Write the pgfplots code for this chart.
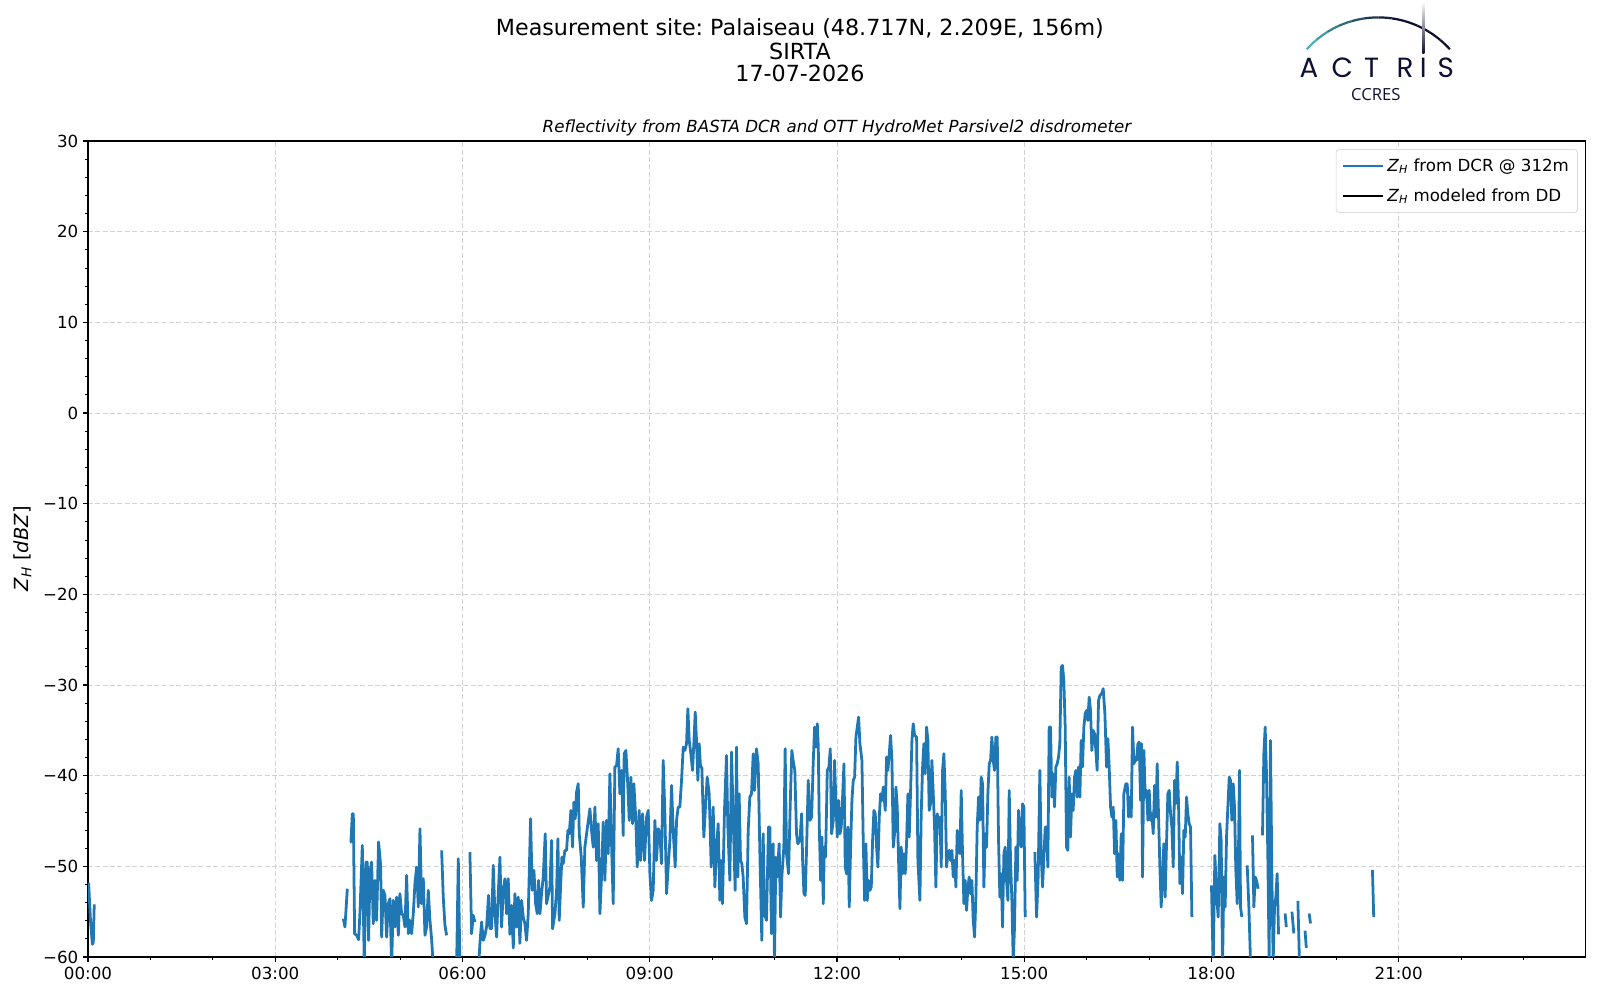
\documentclass[border=0pt]{standalone}
\usepackage{fontspec}
\setmainfont{DejaVu Sans}
\newfontfamily\logofont{Poppins}
\newfontfamily\osfont{Open Sans}
\usepackage{pgfplots}
\pgfplotsset{compat=1.18}
\definecolor{mplblue}{RGB}{31,119,180}
\definecolor{actteal}{HTML}{4FB3B0}
\definecolor{actnavy}{HTML}{0D1033}
\frenchspacing
\begin{document}
\begin{tikzpicture}
\useasboundingbox (-63.36pt,-30.96pt) rectangle (1088.64pt,689.04pt);
\begin{axis}[
  at={(0pt,0pt)}, anchor=south west,
  scale only axis, width=1078.5pt, height=587.5pt,
  xmin=0, xmax=24, ymin=-60, ymax=30,
  xtick={0,3,6,9,12,15,18,21},
  xticklabels={00:00,03:00,06:00,09:00,12:00,15:00,18:00,21:00},
  minor xtick={1,2,4,5,7,8,10,11,13,14,16,17,19,20,22,23},
  ytick={-60,-50,-40,-30,-20,-10,0,10,20,30},
  yticklabels={−60,−50,−40,−30,−20,−10,0,10,20,30},
  minor ytick={-58,-56,...,28},
  tick align=outside, tick pos=left,
  major tick length=3.5pt, minor tick length=2pt,
  major tick style={line width=0.8pt, black},
  minor tick style={line width=0.6pt, black},
  axis line style={line width=0.8pt},
  tick label style={font=\fontsize{12}{14}\selectfont},
  grid=major,
  major grid style={gray!35, line width=0.6pt, dash pattern=on 3.5pt off 1.8pt},
  unbounded coords=jump,
  clip=true,
  legend style={at={(1,1)}, xshift=-6pt, yshift=-6pt, anchor=north east,
    draw=gray!40, rounded corners=2pt, fill=white, fill opacity=0.8, text opacity=1,
    font=\fontsize{12}{14}\selectfont, cells={anchor=west}, row sep=7pt,
    inner xsep=4pt, inner ysep=4.5pt},
  legend image code/.code={\draw[#1] (0pt,0pt) -- (29pt,0pt);},
  legend image post style={line width=2pt},
]
\addplot[color=mplblue, line width=2pt, line join=round] coordinates {
(0.01,-51.8)(0.04,-56.0)(0.07,-58.6)(0.085,-58.4)(0.10,-54.2)
(0.2,nan)
(4.091,-55.78)(4.117,-56.69)(4.155,-52.47)
(4.17,nan)
(4.197,-47.32)(4.213,-47.32)(4.235,-44.20)(4.251,-44.20)(4.272,-57.43)(4.304,-57.61)(4.336,-58.09)(4.358,-55.04)(4.395,-47.69)(4.427,-61)(4.454,-49.53)(4.475,-49.53)(4.496,-58.16)(4.518,-50.63)(4.544,-49.53)(4.571,-56.33)(4.598,-51.55)(4.624,-55.96)(4.656,-47.32)(4.689,-49.89)(4.705,-57.80)(4.731,-52.65)(4.758,-53.20)(4.785,-57.80)(4.811,-54.12)(4.838,-53.57)(4.865,-61)(4.891,-53.75)(4.918,-56.69)(4.945,-53.39)(4.972,-57.61)(4.998,-53.02)(5.025,-55.22)(5.052,-55.41)(5.078,-56.69)(5.105,-51.0)(5.132,-57.43)(5.158,-55.96)(5.185,-57.43)(5.212,-55.22)(5.238,-51.92)(5.265,-50.08)(5.292,-54.49)(5.319,-45.85)(5.345,-54.12)(5.372,-51.36)(5.399,-57.61)(5.425,-56.69)(5.452,-52.65)(5.479,-55.96)(5.505,-57.98)(5.532,-61)
(5.6,nan)
(5.666,-48.24)(5.692,-53.39)(5.719,-56.51)(5.746,-57.61)
(5.8,nan)
(5.906,-61)(5.933,-49.16)(5.959,-61)
(6.0,nan)
(6.119,-48.42)(6.146,-57.43)(6.173,-55.41)(6.199,-56.14)
(6.24,nan)
(6.26,-61)(6.279,-58.53)(6.306,-56.14)(6.333,-58.16)(6.360,-57.61)(6.386,-56.69)(6.418,-53.20)(6.440,-56.88)(6.466,-56.88)(6.493,-49.89)(6.520,-55.22)(6.547,-57.80)(6.573,-53.02)
(6.600,-48.98)(6.627,-56.70)(6.653,-52.65)(6.680,-51.37)(6.707,-55.23)(6.733,-51.37)(6.760,-57.5)(6.787,-54.31)(6.814,-59.0)(6.840,-53.02)(6.867,-56.70)(6.894,-53.39)(6.920,-58.5)(6.947,-53.76)(6.974,-55.60)(7.000,-56.33)(7.027,-58.17)(7.054,-55.23)(7.091,-44.75)(7.118,-52.65)(7.145,-50.45)(7.171,-54.12)(7.198,-55.23)(7.219,-51.55)(7.241,-55.23)(7.267,-53.02)(7.294,-51.18)(7.326,-46.41)(7.347,-54.12)(7.379,-53.02)(7.401,-52.29)(7.428,-47.14)(7.444,-56.88)(7.481,-55.23)(7.508,-52.65)(7.529,-46.96)(7.550,-55.96)(7.572,-52.29)(7.593,-48.98)(7.614,-49.71)(7.641,-48.24)(7.668,-48.24)(7.689,-46.04)(7.711,-46.41)(7.737,-43.83)(7.764,-47.88)(7.785,-42.91)(7.807,-44.75)(7.828,-41.81)(7.855,-40.89)(7.871,-46.41)(7.903,-48.98)(7.935,-54.50)(7.961,-47.88)(7.999,-45.85)(8.042,-43.65)(8.068,-46.04)(8.095,-47.88)(8.122,-43.46)(8.148,-49.35)(8.175,-45.30)(8.202,-55.23)(8.228,-51.18)(8.255,-45.12)(8.282,-51.55)(8.308,-44.93)(8.335,-48.61)(8.362,-39.79)(8.394,-48.98)(8.415,-54.12)(8.442,-39.05)(8.469,-38.87)(8.495,-37.03)(8.522,-42.0)(8.549,-39.42)(8.575,-46.59)(8.591,-37.58)(8.618,-37.22)(8.645,-40.52)(8.672,-44.93)(8.698,-40.16)(8.725,-45.30)(8.746,-40.89)(8.778,-44.93)(8.800,-50.08)(8.832,-43.83)(8.853,-49.35)(8.885,-44.2)(8.917,-49.35)(8.949,-44.57)(8.976,-43.83)(9.003,-50.82)(9.029,-53.76)(9.056,-52.65)(9.083,-44.93)(9.109,-49.35)(9.136,-45.85)(9.163,-46.41)(9.189,-49.71)(9.216,-38.32)(9.243,-44.2)(9.270,-53.02)(9.296,-50.08)(9.323,-47.14)(9.350,-41.08)(9.376,-46.04)(9.408,-50.08)(9.430,-44.93)(9.456,-43.46)(9.483,-43.46)(9.510,-40.52)(9.537,-36.85)(9.563,-37.22)(9.590,-36.48)(9.611,-32.62)(9.633,-36.11)(9.659,-37.58)(9.686,-39.42)(9.707,-36.48)(9.729,-32.99)(9.750,-36.11)(9.771,-40.52)(9.793,-36.48)(9.814,-39.05)(9.835,-39.05)(9.867,-46.77)(9.899,-42.73)(9.921,-40.16)(9.953,-41.99)(9.985,-50.08)(10.017,-43.46)(10.044,-52.29)(10.070,-47.88)(10.097,-45.30)(10.124,-53.76)(10.145,-49.35)(10.166,-54.12)(10.198,-43.83)(10.230,-37.77)(10.252,-45.67)(10.284,-51.55)(10.311,-37.40)(10.337,-44.57)(10.369,-52.65)(10.391,-36.85)(10.412,-51.18)(10.433,-42.0)(10.455,-49.35)(10.476,-49.71)(10.497,-51.18)(10.524,-55.60)(10.551,-56.33)(10.578,-46.04)(10.604,-42.36)(10.631,-42.0)(10.658,-37.58)(10.679,-41.63)(10.711,-37.03)(10.738,-38.69)(10.764,-48.24)(10.796,-58.17)(10.818,-46.41)(10.839,-55.23)(10.871,-55.96)(10.903,-45.67)(10.925,-45.67)(10.951,-57.43)(10.978,-47.51)(10.999,-60.5)(11.021,-48.98)(11.042,-51.18)(11.074,-47.51)(11.096,-55.60)(11.117,-51.18)(11.149,-47.88)(11.170,-37.03)(11.192,-48.61)(11.224,-50.82)(11.256,-42.0)(11.277,-37.22)(11.298,-38.32)(11.325,-39.42)(11.352,-46.41)(11.373,-47.51)
(11.407,-47.14)(11.434,-44.20)(11.450,-49.35)(11.471,-53.02)(11.492,-53.21)(11.514,-47.88)(11.540,-40.52)(11.567,-44.93)(11.594,-44.57)(11.621,-38.32)(11.642,-34.64)(11.663,-36.85)(11.685,-34.27)(11.701,-36.85)(11.717,-45.67)(11.738,-51.55)(11.759,-46.77)(11.781,-54.12)(11.797,-47.88)(11.818,-48.98)(11.845,-39.42)(11.871,-39.05)(11.893,-37.03)(11.914,-46.41)(11.941,-44.93)(11.962,-38.32)(11.984,-43.10)(12.005,-46.77)(12.026,-42.73)(12.048,-46.41)(12.069,-45.67)(12.090,-42.36)(12.112,-38.69)(12.133,-50.08)(12.154,-50.82)(12.176,-45.67)(12.197,-54.49)(12.219,-47.88)(12.240,-42.73)(12.261,-40.52)(12.283,-40.16)(12.304,-35.74)(12.325,-34.64)(12.347,-33.54)(12.368,-36.48)(12.400,-38.32)(12.421,-47.14)(12.443,-53.76)(12.464,-47.51)(12.485,-53.76)(12.507,-51.55)(12.528,-52.65)(12.550,-52.29)(12.571,-47.14)(12.592,-43.83)(12.614,-44.20)(12.635,-47.88)(12.656,-50.08)(12.678,-44.57)(12.699,-42.0)(12.720,-42.73)(12.742,-41.26)(12.774,-43.83)(12.795,-37.95)(12.816,-39.42)(12.838,-37.58)(12.859,-35.56)(12.881,-38.32)(12.902,-47.88)(12.923,-46.41)(12.945,-41.26)(12.966,-43.46)(12.987,-49.35)(13.009,-54.68)(13.030,-47.88)(13.051,-50.82)(13.073,-48.61)(13.094,-50.82)(13.115,-47.51)(13.137,-42.0)(13.158,-46.77)(13.180,-41.63)(13.201,-36.11)(13.222,-34.27)(13.244,-35.56)(13.276,-35.74)(13.297,-49.35)(13.329,-53.76)(13.350,-44.20)(13.372,-39.05)(13.393,-36.48)(13.414,-39.79)(13.436,-34.64)(13.457,-36.11)(13.478,-43.83)(13.500,-43.10)(13.521,-38.32)(13.543,-42.0)(13.564,-45.67)(13.585,-52.29)(13.607,-44.20)(13.628,-45.67)(13.649,-44.57)(13.671,-50.08)(13.692,-39.42)(13.713,-37.58)(13.735,-42.0)(13.756,-50.08)(13.777,-48.61)(13.799,-48.24)(13.820,-49.35)(13.842,-48.24)(13.863,-51.18)(13.884,-49.35)(13.906,-52.29)(13.927,-46.04)(13.948,-47.14)(13.970,-48.61)(13.991,-41.63)(14.012,-48.61)(14.034,-54.12)(14.055,-51.55)(14.077,-54.86)(14.098,-52.29)(14.119,-51.18)(14.141,-53.02)(14.162,-51.55)(14.183,-55.96)(14.205,-57.80)(14.226,-53.39)(14.247,-45.67)(14.269,-42.36)(14.290,-44.93)(14.311,-40.16)(14.333,-40.89)(14.354,-52.29)(14.376,-46.41)(14.397,-47.88)(14.418,-42.0)(14.440,-38.69)(14.461,-38.32)(14.482,-35.74)(14.504,-38.32)(14.525,-39.42)(14.546,-35.74)(14.568,-35.74)(14.589,-47.14)(14.610,-53.39)(14.632,-50.82)(14.653,-56.70)(14.675,-48.61)(14.696,-47.88)(14.717,-51.55)(14.739,-53.76)(14.760,-41.63)(14.781,-49.35)(14.803,-53.76)(14.824,-60.5)(14.845,-56.70)(14.867,-47.88)(14.888,-51.55)(14.909,-43.83)(14.931,-46.41)(14.952,-47.88)(14.974,-43.10)(14.995,-43.46)(15.016,-55.60)
(15.1,nan)
(15.171,-48.43)(15.198,-55.60)(15.224,-51.18)(15.251,-39.42)(15.272,-48.61)(15.294,-52.29)(15.315,-48.98)(15.337,-45.67)(15.358,-45.67)(15.379,-50.08)(15.400,-34.64)(15.422,-34.64)(15.443,-42.36)(15.465,-39.79)(15.486,-43.46)(15.507,-39.05)(15.529,-38.69)(15.550,-37.95)(15.571,-36.48)(15.593,-28.03)(15.614,-27.84)(15.635,-29.50)(15.657,-34.64)(15.678,-47.88)(15.699,-48.24)(15.721,-40.16)(15.742,-46.77)(15.764,-42.0)(15.785,-43.83)(15.806,-40.16)(15.828,-39.42)(15.849,-42.36)(15.870,-39.05)(15.892,-42.36)(15.913,-36.11)(15.934,-39.05)(15.956,-34.64)(15.977,-33.17)(15.998,-32.80)(16.020,-33.91)(16.041,-31.33)(16.063,-32.80)(16.084,-37.22)(16.105,-35.01)(16.127,-35.38)(16.148,-37.22)(16.169,-39.42)(16.191,-31.70)
(16.213,-31.15)(16.240,-30.96)(16.266,-30.41)(16.293,-33.17)(16.320,-39.05)(16.341,-35.92)(16.362,-39.05)(16.384,-43.46)(16.405,-44.56)(16.427,-43.46)(16.448,-48.61)(16.469,-44.93)(16.491,-51.18)(16.512,-48.61)(16.533,-51.55)(16.555,-46.40)(16.576,-51.55)(16.597,-41.99)(16.629,-40.89)(16.651,-40.89)(16.672,-44.56)(16.693,-42.36)(16.715,-44.56)(16.736,-34.64)(16.758,-38.68)(16.779,-38.31)(16.800,-38.31)(16.822,-36.48)(16.843,-36.29)(16.864,-42.72)(16.880,-36.48)(16.896,-51.18)(16.918,-37.21)(16.939,-42.36)(16.960,-41.62)(16.982,-44.93)(17.003,-41.62)(17.024,-44.93)(17.046,-44.20)(17.067,-46.40)(17.089,-41.07)(17.110,-44.56)(17.131,-38.68)(17.153,-44.56)(17.174,-50.08)(17.195,-54.49)(17.217,-50.81)(17.238,-47.50)(17.259,-53.39)(17.281,-47.32)(17.302,-41.99)(17.324,-41.62)(17.345,-44.20)(17.366,-45.67)(17.388,-50.08)(17.409,-40.52)(17.430,-43.09)(17.452,-38.50)(17.473,-43.09)(17.494,-51.91)(17.516,-48.97)(17.537,-53.02)(17.558,-46.03)(17.580,-46.77)(17.601,-42.36)(17.622,-44.20)(17.644,-45.30)(17.665,-45.67)(17.687,-55.59)
(17.8,nan)
(18.001,-52.10)(18.028,-61.0)(18.055,-48.79)(18.082,-53.02)(18.108,-55.59)(18.135,-45.30)(18.156,-47.14)(18.178,-61.0)(18.199,-51.18)(18.220,-54.49)(18.242,-46.77)(18.263,-43.46)(18.285,-40.15)(18.306,-40.52)(18.327,-44.93)(18.349,-40.89)(18.370,-43.46)(18.391,-50.44)(18.413,-54.12)(18.429,-50.81)(18.450,-39.42)(18.466,-54.49)(18.487,-55.59)
(18.53,nan)
(18.573,-49.89)(18.600,-54.49)(18.626,-60.5)
(18.64,nan)
(18.658,-46.58)(18.680,-54.49)(18.701,-51.18)(18.722,-51.55)(18.749,-52.47)
(18.78,nan)
(18.818,-46.58)(18.840,-37.58)(18.861,-34.64)(18.882,-39.78)(18.904,-48.97)(18.925,-60.5)(18.946,-36.11)(18.968,-50.81)(18.989,-60.5)(19.011,-54.49)(19.032,-53.39)(19.053,-50.81)(19.075,-57.5)
(19.12,nan)
(19.18,-55.2)(19.20,-56.7)
(19.25,nan)
(19.29,-55.0)(19.32,-57.4)
(19.35,nan)
(19.385,-53.8)(19.41,-60.5)
(19.45,nan)
(19.50,-57.1)(19.52,-59.0)
(19.54,nan)
(19.566,-55.2)(19.587,-56.3)
(20.0,nan)
(20.58,-50.4)(20.60,-55.6)
};
\addlegendentry{\textit{Z}\textsubscript{\textit{H}} from DCR @ 312m}
\addlegendimage{black, line width=2pt}
\addlegendentry{\textit{Z}\textsubscript{\textit{H}} modeled from DD}
\end{axis}
% y label
\node[rotate=90, font=\fontsize{14}{16}\selectfont] at (-47.2pt,293.75pt) {\textit{Z}\textsubscript{\textit{H}} [\textit{dBZ}]};
% titles
\node[anchor=base, font=\fontsize{16}{18}\selectfont] at (512.6pt,663.4pt) {Measurement site: Palaiseau (48.717N, 2.209E, 156m)};
\node[anchor=base, font=\fontsize{16}{18}\selectfont] at (512.6pt,646.5pt) {SIRTA};
\node[anchor=base, font=\fontsize{16}{18}\selectfont] at (512.6pt,630.3pt) {17-07-2026};
\node[anchor=base, font=\fontsize{12}{14}\selectfont\itshape] at (539.25pt,593.6pt) {Reflectivity from BASTA DCR and OTT HydroMet Parsivel2 disdrometer};
% logo
\foreach \i in {0,...,11}{
  \pgfmathtruncatemacro\p{min(100,\i*15)}
  \pgfmathsetmacro\aa{138-8*\i}
  \pgfmathsetmacro\ab{130-8*\i}
  \draw[color=actnavy!\p!actteal, line width=1.6pt] ([shift={(\aa:69.3pt)}]929.0pt,607.2pt) arc[start angle=\aa, end angle=\ab, radius=69.3pt];
}
\shade[top color=white, bottom color=actnavy] (960.7pt,650.6pt) rectangle (962.1pt,687.8pt);
\foreach \x/\l in {879.1/A,903.2/C,924.2/T,948.2/R,961.4/I,977.6/S}{
  \node[anchor=base, text=actnavy, font=\logofont\fontsize{20}{22}\selectfont, inner sep=0pt, text depth=0pt] at (\x pt,633.4pt) {\l};
}
\node[anchor=base, text=actnavy, font=\osfont\fontsize{12}{13}\selectfont, inner sep=0pt, text depth=0pt, text height=8.6pt] at (927.2pt,617.0pt) {CCRES};
\end{tikzpicture}
\end{document}
